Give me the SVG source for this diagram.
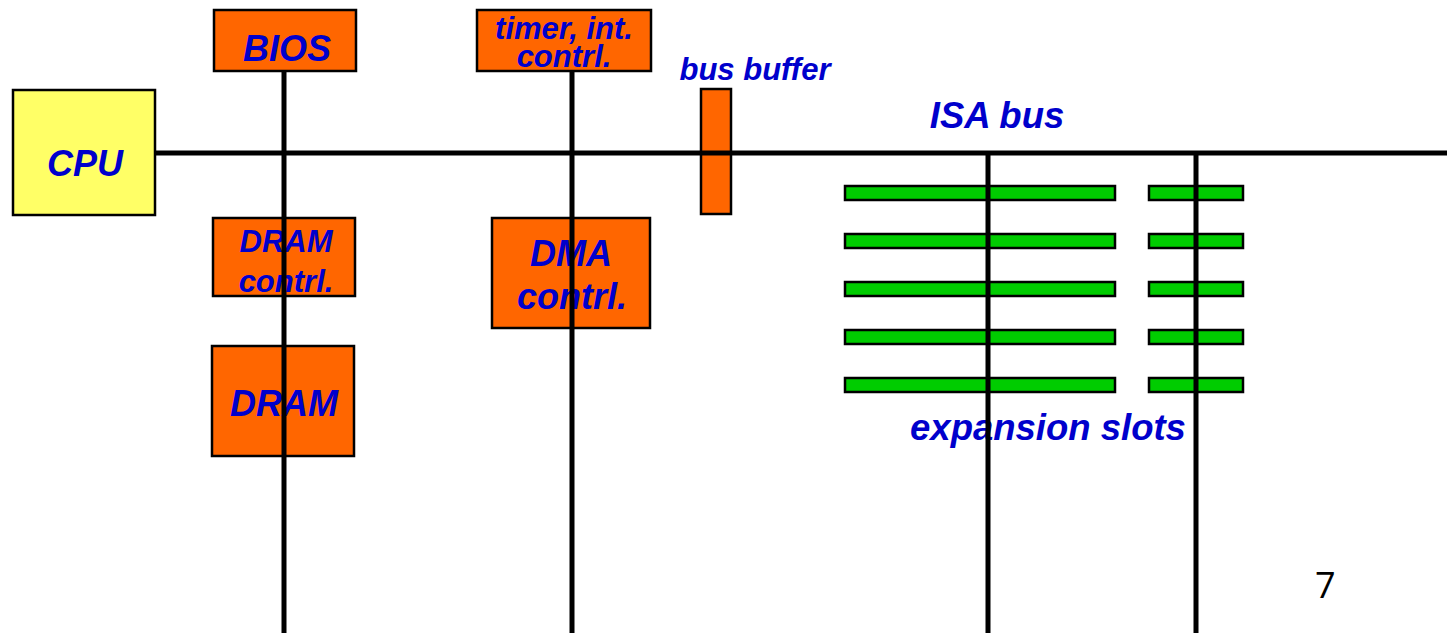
<svg xmlns="http://www.w3.org/2000/svg" width="1447" height="633" viewBox="0 0 1447 633">
  <style>
    .box { stroke: #000; stroke-width: 2.5; }
    .chip { fill: #FF6600; }
    .cpu { fill: #FFFF66; }
    .slot { fill: #00CC00; stroke: #000; stroke-width: 2.5; }
    .lbl { font-family: "Liberation Sans", Arial, sans-serif; font-weight: bold; font-style: italic; fill: #0000CC; text-anchor: middle; }
    .bus { stroke: #000; stroke-width: 5; fill: none; }
    .num { font-family: "Open Sans", "DejaVu Sans", sans-serif; font-size: 36px; fill: #000; }
  </style>
  <rect width="1447" height="633" fill="#fff"/>

  <g id="cpu">
    <rect class="box cpu" x="13" y="90" width="142" height="125"/>
    <text class="lbl" x="85" y="176" font-size="36">CPU</text>
  </g>
  <g id="bios">
    <rect class="box chip" x="214" y="10" width="142" height="61"/>
    <text class="lbl" x="287" y="61" font-size="36">BIOS</text>
  </g>
  <g id="timer">
    <rect class="box chip" x="477" y="10" width="174" height="61"/>
    <text class="lbl" x="564" y="39" font-size="31">timer, int.</text>
    <text class="lbl" x="564" y="67" font-size="31">contrl.</text>
  </g>
  <g id="busbuffer">
    <rect class="box chip" x="701" y="89" width="30" height="125"/>
    <text class="lbl" x="755" y="80" font-size="31">bus buffer</text>
  </g>
  <g id="dramctrl">
    <rect class="box chip" x="213" y="218" width="142" height="78"/>
    <text class="lbl" x="286" y="252" font-size="31">DRAM</text>
    <text class="lbl" x="286" y="292" font-size="31">contrl.</text>
  </g>
  <g id="dram">
    <rect class="box chip" x="212" y="346" width="142" height="110"/>
    <text class="lbl" x="284" y="416" font-size="36">DRAM</text>
  </g>
  <g id="dmactrl">
    <rect class="box chip" x="492" y="218" width="158" height="110"/>
    <text class="lbl" x="571" y="266" font-size="36">DMA</text>
    <text class="lbl" x="572" y="309" font-size="36">contrl.</text>
  </g>
  <g id="slots">
    <rect class="slot" x="845" y="186" width="270" height="14"/>
    <rect class="slot" x="845" y="234" width="270" height="14"/>
    <rect class="slot" x="845" y="282" width="270" height="14"/>
    <rect class="slot" x="845" y="330" width="270" height="14"/>
    <rect class="slot" x="845" y="378" width="270" height="14"/>
    <rect class="slot" x="1149" y="186" width="94" height="14"/>
    <rect class="slot" x="1149" y="234" width="94" height="14"/>
    <rect class="slot" x="1149" y="282" width="94" height="14"/>
    <rect class="slot" x="1149" y="330" width="94" height="14"/>
    <rect class="slot" x="1149" y="378" width="94" height="14"/>
    <text class="lbl" x="1048" y="440" font-size="36.5">expansion slots</text>
  </g>
  <g id="isabus-label">
    <text class="lbl" x="997" y="128" font-size="36.5">ISA bus</text>
  </g>

  <g id="connectors">
    <line class="bus" x1="155" y1="153" x2="1447" y2="153"/>
    <line class="bus" x1="284" y1="71" x2="284" y2="633"/>
    <line class="bus" x1="572" y1="71" x2="572" y2="633"/>
    <line class="bus" x1="988" y1="153" x2="988" y2="633"/>
    <line class="bus" x1="1196" y1="153" x2="1196" y2="633"/>
  </g>

  <text class="num" x="1315" y="598">7</text>
</svg>
